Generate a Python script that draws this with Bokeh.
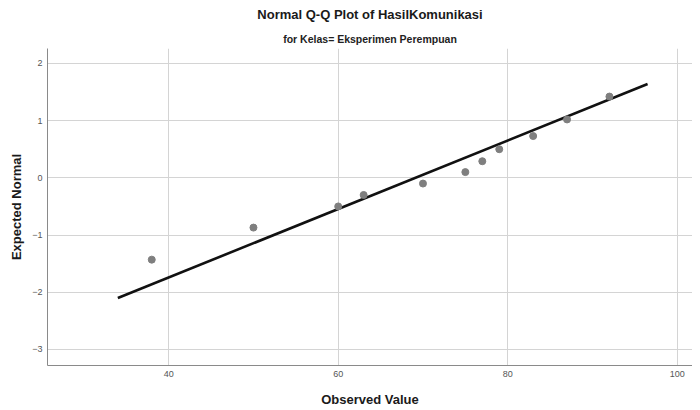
from bokeh.plotting import figure
from bokeh.models import Range1d, FixedTicker, Title
from bokeh.embed import file_html
from bokeh.resources import INLINE

observed = [38, 50, 60, 63, 70, 75, 77, 79, 83, 87, 92]
expected = [-1.43, -0.87, -0.50, -0.30, -0.10, 0.10, 0.29, 0.50, 0.73, 1.02, 1.42]
line_x = [34.0, 96.5]
line_y = [-2.10, 1.64]
x_ticks = [40, 60, 80, 100]
y_ticks = [2, 1, 0, -1, -2, -3]

FONT = "Liberation Sans"

p = figure(frame_width=645, frame_height=317, output_backend="svg", toolbar_location=None,
           title="Normal Q-Q Plot of HasilKomunikasi",
           x_range=Range1d(25.7, 101.8), y_range=Range1d(-3.28, 2.26),
           min_border_left=47, min_border_right=0, min_border_bottom=43, min_border_top=42)

p.title.text_font = FONT
p.title.text_font_size = "13px"
p.title.text_font_style = "bold"
p.title.align = "center"
p.title.text_color = "#1a1a1a"
p.title.standoff = 9

sub = Title(text="for Kelas= Eksperimen Perempuan", align="center",
            text_font=FONT, text_font_size="10.5px", text_font_style="bold",
            text_color="#222222", standoff=8)
p.add_layout(sub, "above")

p.outline_line_color = None
p.background_fill_color = "white"
p.border_fill_color = "white"

for ax in (p.xaxis, p.yaxis):
    ax.axis_line_color = "#8a8a8a"
    ax.axis_line_width = 1
    ax.major_tick_line_color = None
    ax.major_tick_out = 0
    ax.major_tick_in = 0
    ax.minor_tick_line_color = None
    ax.minor_tick_out = 0
    ax.major_label_text_font = FONT
    ax.major_label_text_font_size = "9px"
    ax.major_label_text_color = "#555555"
    ax.axis_label_text_font = FONT
    ax.axis_label_text_font_size = "13px"
    ax.axis_label_text_font_style = "bold"
    ax.axis_label_text_color = "#1a1a1a"

p.xaxis.ticker = FixedTicker(ticks=x_ticks)
p.yaxis.ticker = FixedTicker(ticks=y_ticks)
p.xaxis.axis_label = "Observed Value"
p.yaxis.axis_label = "Expected Normal"
p.xaxis.major_label_standoff = 5
p.yaxis.major_label_standoff = 5
p.xaxis.axis_label_standoff = 12
p.yaxis.axis_label_standoff = 5

p.xgrid.ticker = FixedTicker(ticks=x_ticks)
p.ygrid.ticker = FixedTicker(ticks=y_ticks)
p.grid.grid_line_color = "#d4d4d4"
p.grid.grid_line_width = 1

p.line(line_x, line_y, line_color="#111111", line_width=2.6)
p.scatter(observed, expected, size=7, fill_color="#7f7f7f", line_color="#7f7f7f")

open("out.html", "w").write(file_html(p, INLINE))
